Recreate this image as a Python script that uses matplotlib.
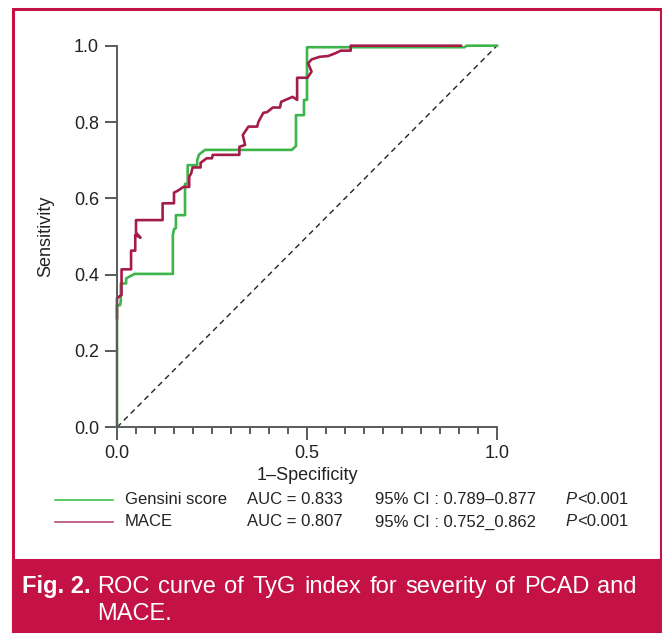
import numpy as np
import matplotlib
matplotlib.use('Agg')
import matplotlib.pyplot as plt
from matplotlib.patches import Rectangle
from matplotlib.lines import Line2D
from matplotlib.ticker import MultipleLocator

plt.rcParams['font.family'] = ['Liberation Sans', 'DejaVu Sans']

## ROC curve, Gensini score (1-specificity, sensitivity)
gensini_fpr = [0, 0, 0.008, 0.01, 0.01, 0.024, 0.024, 0.046, 0.147, 0.147, 0.15, 0.155, 0.155,
               0.179, 0.179, 0.186, 0.186, 0.211, 0.211, 0.216, 0.232, 0.46, 0.471, 0.471,
               0.492, 0.492, 0.5, 0.5, 0.915, 0.92, 1.0]
gensini_tpr = [0, 0.32, 0.32, 0.33, 0.377, 0.377, 0.39, 0.402, 0.402, 0.504, 0.519, 0.522, 0.556,
               0.556, 0.638, 0.638, 0.687, 0.687, 0.70, 0.715, 0.727, 0.727, 0.737, 0.818,
               0.818, 0.858, 0.858, 0.996, 0.996, 1.0, 1.0]

## ROC curve, MACE
mace_fpr = [0, 0, 0.005, 0.012, 0.012, 0.037, 0.037, 0.048, 0.048, 0.062, 0.05, 0.05, 0.12, 0.12,
            0.15, 0.15, 0.16, 0.175, 0.19, 0.19, 0.195, 0.199, 0.22, 0.22, 0.236, 0.25, 0.252,
            0.322, 0.322, 0.337, 0.331, 0.346, 0.369, 0.372, 0.385, 0.395, 0.41, 0.429, 0.432,
            0.462, 0.474, 0.474, 0.501, 0.512, 0.503, 0.512, 0.534, 0.556, 0.574, 0.589, 0.615,
            0.615, 0.905]
mace_tpr = [0.286, 0.338, 0.342, 0.347, 0.414, 0.414, 0.463, 0.463, 0.504, 0.497, 0.51, 0.543,
            0.543, 0.587, 0.587, 0.615, 0.62, 0.63, 0.63, 0.657, 0.665, 0.681, 0.681, 0.693,
            0.705, 0.705, 0.714, 0.714, 0.735, 0.74, 0.766, 0.788, 0.788, 0.80, 0.824, 0.826,
            0.838, 0.838, 0.853, 0.866, 0.858, 0.916, 0.916, 0.932, 0.954, 0.964, 0.971, 0.973,
            0.98, 0.987, 0.987, 1.0, 1.0]

labels = ['Gensini score', 'MACE']
auc = ['AUC = 0.833', 'AUC = 0.807']
ci = ['95% CI : 0.789\u20130.877', '95% CI : 0.752_0.862']
pval = ['<0.001', '<0.001']
caption = ['ROC curve of TyG index for severity of PCAD and', 'MACE.']

green = '#3db54a'
red = '#a51c4a'
crimson = '#c41245'

fig = plt.figure(figsize=(6.62, 6.33), dpi=100)
renderer = fig.canvas.get_renderer()

## frame and caption box
fig.patches.append(Rectangle((13/662, 0), 648/662, 1 - 9/633, transform=fig.transFigure,
                             fill=False, edgecolor=crimson, linewidth=2.2))
fig.patches.append(Rectangle((13/662, 0), 648/662, 73/633, transform=fig.transFigure,
                             facecolor=crimson, edgecolor=crimson, linewidth=2.2))

ax = fig.add_axes([117/662, 1 - 427.3/633, 380/662, 381.6/633])
ax.plot([0, 1], [0, 1], '--', color='#222222', linewidth=1.0, dashes=(4, 3), clip_on=False)
ax.plot(gensini_fpr, gensini_tpr, color=green, linewidth=1.9, clip_on=False)
ax.plot(mace_fpr, mace_tpr, color=red, linewidth=1.9, clip_on=False)

ax.set_xlim(0, 1)
ax.set_ylim(0, 1)
ax.xaxis.set_minor_locator(MultipleLocator(0.05))
ax.yaxis.set_major_locator(MultipleLocator(0.2))
ax.set_xticks([0, 0.5, 1.0])
ax.set_xticklabels(['0.0', '0.5', '1.0'])
for s in ['top', 'right']:
    ax.spines[s].set_visible(False)
for s in ['left', 'bottom']:
    ax.spines[s].set_color('#5a5a5a')
    ax.spines[s].set_linewidth(1.4)
ax.tick_params(which='major', length=9, width=1.4, color='#5a5a5a', labelsize=13,
               labelcolor='#222222', pad=4)
ax.tick_params(which='minor', length=5, width=1.4, color='#5a5a5a')
ax.set_xlabel('1\u2013Specificity', fontsize=13, labelpad=3, color='#222222')
ax.set_ylabel('Sensitivity', fontsize=13, labelpad=14, color='#222222')

## legend rows
rows_y = [1 - 500/633, 1 - 522/633]
line_cols = ['#3ec24a', '#b04a75']
for i in range(2):
    fig.lines.append(Line2D([55/662, 113/662], [rows_y[i], rows_y[i]], transform=fig.transFigure,
                            color=line_cols[i], linewidth=1.2))
    fig.text(125/662, rows_y[i], labels[i], fontsize=12, va='center', color='#222222')
    fig.text(247/662, rows_y[i], auc[i], fontsize=12, va='center', color='#222222')
    fig.text(375/662, rows_y[i], ci[i], fontsize=12, va='center', color='#222222')
    p = fig.text(565/662, rows_y[i], 'P', fontsize=12, style='italic', va='center',
                 color='#222222')
    pw = p.get_window_extent(renderer).width
    fig.text((565 + pw + 1) / 662, rows_y[i], pval[i], fontsize=12, va='center', color='#222222')

## caption, first line justified between x=97 and x=637 px
fig.text(22/662, 1 - 593/633, 'Fig. 2.', fontsize=17, fontweight='bold', color='white',
         va='baseline')
words = caption[0].split()
texts = [fig.text(0, 1 - 593/633, w, fontsize=17, color='white', va='baseline') for w in words]
widths = [t.get_window_extent(renderer).width for t in texts]
gap = (637 - 97 - sum(widths)) / (len(words) - 1)
x = 97
for t, w in zip(texts, widths):
    t.set_x(x / 662)
    x += w + gap
fig.text(97/662, 1 - 620/633, caption[1], fontsize=17, color='white', va='baseline')

fig.savefig('out.png', dpi=100)
